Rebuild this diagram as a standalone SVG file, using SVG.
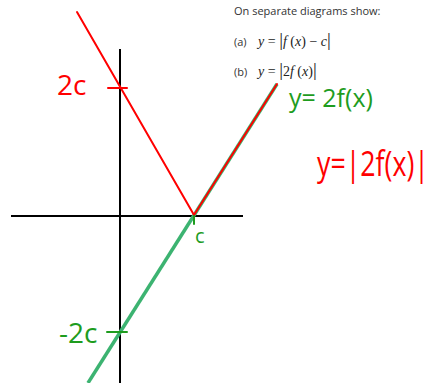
<svg xmlns="http://www.w3.org/2000/svg" width="432" height="383" viewBox="0 0 432 383">
<style>
.ax{stroke:#000;stroke-width:2;fill:none}
.red{stroke:#ff0000;stroke-width:2;fill:none;stroke-linecap:round}
.grn{stroke:#3cb371;stroke-width:3.5;fill:none}
.gtick{stroke:#1e9c1e;stroke-width:2;fill:none;stroke-linecap:round}
.hr{font-family:"Open Sans","DejaVu Sans",sans-serif;fill:#ff0000}
.hg{font-family:"Open Sans","DejaVu Sans",sans-serif;fill:#1e9c1e}
.q{font-family:"Open Sans","DejaVu Sans",sans-serif;font-size:11px;fill:#333}
.m{font-family:"Liberation Serif",serif;font-size:14px;fill:#222}
</style>
<g id="axes">
<line class="ax" x1="120" y1="49" x2="120" y2="383"/>
<line class="ax" x1="11" y1="216" x2="243" y2="216"/>
</g>
<g id="connectors">
<line class="grn" x1="88" y1="383" x2="277" y2="84"/>
<line class="red" x1="77" y1="12" x2="194" y2="215"/>
<line class="red" x1="194" y1="215" x2="277" y2="84"/>
<line class="red" x1="108" y1="88" x2="127" y2="88"/>
<line class="gtick" x1="107" y1="332" x2="127" y2="332"/>
<line class="gtick" x1="194" y1="216" x2="194" y2="224"/>
</g>
<g id="label-2c"><text class="hr" x="57" y="95" font-size="28">2c</text></g>
<g id="label-c"><text class="hg" x="195" y="243" font-size="20">c</text></g>
<g id="label-m2c"><text class="hg" x="59" y="343" font-size="28">-2c</text></g>
<g id="label-2fx"><text class="hg" x="289" y="107" font-size="25" xml:space="preserve">y= 2f(x)</text></g>
<g id="label-abs"><text class="hr" x="317" y="176" font-size="34" textLength="112" lengthAdjust="spacingAndGlyphs">y=|2f(x)|</text></g>
<g id="question">
<text class="q" x="234" y="15">On separate diagrams show:</text>
<text class="q" x="234" y="46">(a)</text>
<text class="m" x="258" y="46"><tspan font-style="italic">y</tspan> = <tspan font-size="19">|</tspan><tspan font-style="italic">f</tspan> (<tspan font-style="italic">x</tspan>) − <tspan font-style="italic">c</tspan><tspan font-size="19">|</tspan></text>
<text class="q" x="234" y="76">(b)</text>
<text class="m" x="258" y="76"><tspan font-style="italic">y</tspan> = <tspan font-size="19">|</tspan>2<tspan font-style="italic">f</tspan> (<tspan font-style="italic">x</tspan>)<tspan font-size="19">|</tspan></text>
</g>
</svg>
